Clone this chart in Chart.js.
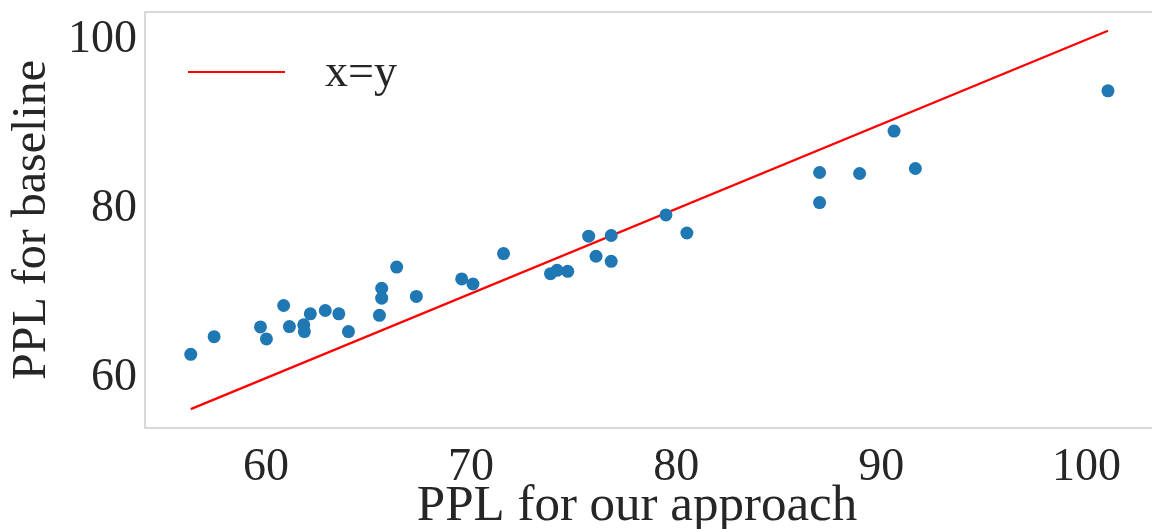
<!DOCTYPE html>
<html>
<head>
<meta charset="utf-8">
<script src="https://cdn.jsdelivr.net/npm/chart.js@4.4.1/dist/chart.umd.min.js"></script>
<style>
  html, body { margin: 0; padding: 0; background: #ffffff; overflow: hidden; }
  #wrap { width: 1160px; height: 529px; position: relative; }
</style>
</head>
<body>
<div id="wrap"><canvas id="c"></canvas></div>
<script>
// ---- data ----
const ourPPL = [56.33, 57.47, 59.73, 60.02, 60.86, 61.14, 61.84, 61.87, 62.16, 62.89,
                63.55, 64.02, 65.53, 65.64, 65.64, 66.37, 67.33, 69.54, 70.09, 71.58,
                73.87, 74.19, 74.71, 75.73, 76.09, 76.83, 76.83, 79.50, 80.52, 86.99,
                86.99, 88.94, 90.62, 91.66, 101.05];
const baselinePPL = [62.81, 64.90, 66.05, 64.63, 68.58, 66.09, 66.29, 65.50, 67.60, 67.99,
                     67.60, 65.50, 67.42, 70.62, 69.44, 73.12, 69.65, 71.72, 71.12, 74.72,
                     72.34, 72.74, 72.62, 76.77, 74.40, 76.85, 73.80, 79.29, 77.15, 84.30,
                     80.74, 84.18, 89.20, 84.77, 93.95];
const identityEnds = [56.33, 101.05];
const xTickValues = [60, 70, 80, 90, 100];
const yTickValues = [60, 80, 100];
const lineLabel = 'x=y';
const xTitle = 'PPL for our approach';
const yTitle = 'PPL for baseline';

const points = ourPPL.map((v, i) => ({ x: v, y: baselinePPL[i] }));
const identity = identityEnds.map(v => ({ x: v, y: v }));

const FONT = "'Liberation Serif', 'DejaVu Serif', serif";
const TEXT = '#262626';

const framePlugin = {
  id: 'frame',
  beforeDatasetsDraw(chart) {
    const { ctx, chartArea: a } = chart;
    ctx.save();
    ctx.strokeStyle = '#cccccc';
    ctx.lineWidth = 1.5;
    ctx.strokeRect(a.left, a.top, a.right - a.left, a.bottom - a.top);
    ctx.restore();
  }
};

const textPlugin = {
  id: 'texts',
  afterDraw(chart) {
    const { ctx, chartArea: a } = chart;
    const ds = chart.data.datasets[0];
    ctx.save();
    // legend inside the plot
    ctx.strokeStyle = ds.borderColor;
    ctx.lineWidth = ds.borderWidth;
    const y = a.top + 60;
    ctx.beginPath();
    ctx.moveTo(a.left + 43, y);
    ctx.lineTo(a.left + 140, y);
    ctx.stroke();
    ctx.fillStyle = TEXT;
    ctx.font = "46px " + FONT;
    ctx.textBaseline = 'middle';
    ctx.textAlign = 'left';
    ctx.fillText(ds.label, a.left + 180, y + 2);
    // x axis title
    ctx.font = "51px " + FONT;
    ctx.textAlign = 'center';
    ctx.textBaseline = 'alphabetic';
    ctx.fillText(xTitle, 637, 520);
    ctx.restore();
  }
};

new Chart(document.getElementById('c'), {
  type: 'scatter',
  data: {
    datasets: [
      {
        type: 'line',
        label: lineLabel,
        data: identity,
        borderColor: '#ff0000',
        borderWidth: 2.2,
        pointRadius: 0,
        fill: false,
        order: 2
      },
      {
        label: 'points',
        data: points,
        backgroundColor: '#1f77b4',
        borderColor: '#1f77b4',
        borderWidth: 0,
        pointRadius: 6.5,
        pointHoverRadius: 6.5,
        order: 1
      }
    ]
  },
  options: {
    responsive: true,
    maintainAspectRatio: false,
    animation: false,
    events: [],
    layout: { padding: { top: 12, right: 4, left: 0, bottom: 0 } },
    plugins: { legend: { display: false }, tooltip: { enabled: false } },
    scales: {
      x: {
        type: 'linear',
        min: 54.1,
        max: 103.27,
        grid: { display: false, drawTicks: false },
        border: { display: false },
        afterBuildTicks(scale) { scale.ticks = xTickValues.map(v => ({ value: v })); },
        afterFit(scale) { scale.height = 101; scale.paddingLeft = 0; scale.paddingRight = 0; },
        ticks: {
          color: TEXT,
          font: { family: FONT, size: 46 },
          padding: 12,
          maxRotation: 0,
          autoSkip: false
        },
        title: { display: false }
      },
      y: {
        type: 'linear',
        min: 54.1,
        max: 103.27,
        grid: { display: false, drawTicks: false },
        border: { display: false },
        afterBuildTicks(scale) { scale.ticks = yTickValues.map(v => ({ value: v })); },
        afterFit(scale) { scale.width = 145; scale.paddingTop = 0; scale.paddingBottom = 0; },
        ticks: {
          color: TEXT,
          font: { family: FONT, size: 46 },
          padding: 8,
          autoSkip: false
        },
        title: {
          display: true,
          text: yTitle,
          color: TEXT,
          font: { family: FONT, size: 48 },
          padding: { top: 4, bottom: 0 }
        }
      }
    }
  },
  plugins: [framePlugin, textPlugin]
});
</script>
</body>
</html>
